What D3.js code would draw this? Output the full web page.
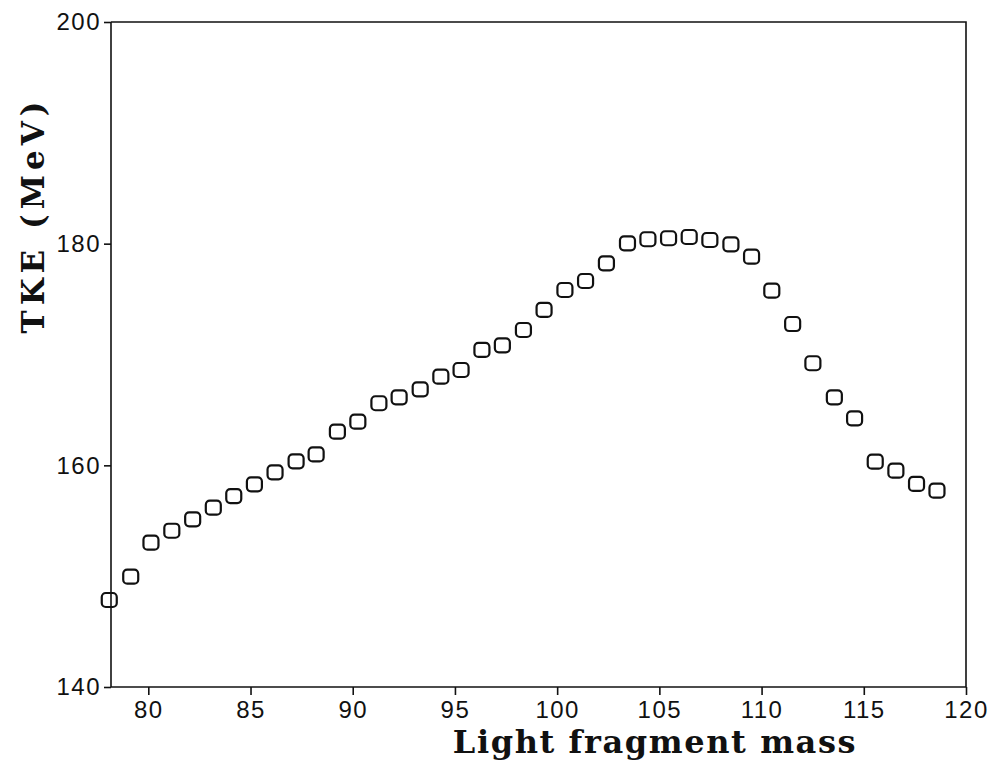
<!DOCTYPE html>
<html>
<head>
<meta charset="utf-8">
<script src="https://cdnjs.cloudflare.com/ajax/libs/d3/7.8.5/d3.min.js"></script>
<style>
    body { margin: 0; background: #fff; }
    .axis path, .axis line { stroke: #111; stroke-width: 1.6; }
    .axis text { font-family: 'Liberation Sans', Arial, sans-serif; font-size: 24px; letter-spacing: 1.5px; fill: #111; }
    .title { font-family: 'DejaVu Serif', serif; font-weight: bold; fill: #111; }
</style>
</head>
<body>
<div id="vis"></div>
<script>
// Light fragment mass (x)
var mass = [78.09, 79.14, 80.13, 81.15, 82.17, 83.18, 84.18, 85.19, 86.20, 87.23,
    88.21, 89.25, 90.25, 91.28, 92.27, 93.30, 94.31, 95.30, 96.32, 97.32,
    98.35, 99.36, 100.38, 101.39, 102.41, 103.44, 104.44, 105.45, 106.46, 107.47,
    108.50, 109.51, 110.50, 111.52, 112.51, 113.56, 114.55, 115.56, 116.57, 117.58,
    118.58];

// Total kinetic energy (MeV)
var tke = [147.85, 149.95, 153.02, 154.10, 155.13, 156.18, 157.23, 158.29, 159.37, 160.36,
    160.98, 163.04, 163.94, 165.60, 166.14, 166.86, 168.00, 168.60, 170.41, 170.83,
    172.21, 174.02, 175.82, 176.63, 178.23, 180.03, 180.40, 180.49, 180.60, 180.33,
    179.94, 178.83, 175.76, 172.75, 169.21, 166.14, 164.24, 160.33, 159.52, 158.32,
    157.71];

// Tick labels
var xTicks = [80, 85, 90, 95, 100, 105, 110, 115, 120];
var yTicks = [140, 160, 180, 200];

var data = mass.map(function(m, i) {
    return { mass: m, tke: tke[i] };
});

// Space around the drawing area
var margin = { left: 111, top: 22, right: 22, bottom: 91 };
var width = 988;
var height = 778;
var drawWidth = width - margin.left - margin.right;
var drawHeight = height - margin.top - margin.bottom;

var svg = d3.select('#vis')
    .append('svg')
    .attr('width', width)
    .attr('height', height);

var g = svg.append('g')
    .attr('transform', 'translate(' + margin.left + ',' + margin.top + ')');

// Scales
var xScale = d3.scaleLinear()
    .domain([78.175, 120])
    .range([0, drawWidth]);

var yScale = d3.scaleLinear()
    .domain([140, 200])
    .range([drawHeight, 0]);

// Axes
var xAxis = d3.axisBottom(xScale)
    .tickValues(xTicks)
    .tickSize(8)
    .tickPadding(6);

var yAxis = d3.axisLeft(yScale)
    .tickValues(yTicks)
    .tickSize(7)
    .tickPadding(3);

g.append('g')
    .attr('class', 'axis')
    .attr('transform', 'translate(0,' + drawHeight + ')')
    .call(xAxis)
    .call(function(s) { s.select('.domain').attr('d', 'M0,0H' + drawWidth); });

g.append('g')
    .attr('class', 'axis')
    .call(yAxis)
    .call(function(s) { s.select('.domain').attr('d', 'M0,0V' + drawHeight); });

// Top and right border of the frame
g.append('path')
    .attr('d', 'M0,0H' + drawWidth + 'V' + drawHeight)
    .attr('fill', 'none')
    .attr('stroke', '#111')
    .attr('stroke-width', 1.6);

// Markers: open rounded squares
var mw = 15, mh = 14;
g.selectAll('rect.pt')
    .data(data)
    .enter().append('rect')
    .attr('class', 'pt')
    .attr('x', function(d) { return xScale(d.mass) - mw / 2; })
    .attr('y', function(d) { return yScale(d.tke) - mh / 2; })
    .attr('width', mw)
    .attr('height', mh)
    .attr('rx', 4)
    .attr('ry', 4)
    .attr('fill', 'none')
    .attr('stroke', '#111')
    .attr('stroke-width', 2.2);

// Axis titles
svg.append('text')
    .attr('class', 'title')
    .attr('x', 655)
    .attr('y', 753)
    .attr('text-anchor', 'middle')
    .style('font-size', '32px')
    .style('letter-spacing', '1.6px')
    .text('Light fragment mass');

svg.append('text')
    .attr('class', 'title')
    .attr('transform', 'translate(44,215) rotate(-90)')
    .attr('text-anchor', 'middle')
    .style('font-size', '31px')
    .style('letter-spacing', '5px')
    .text('TKE (MeV)');
</script>
</body>
</html>
